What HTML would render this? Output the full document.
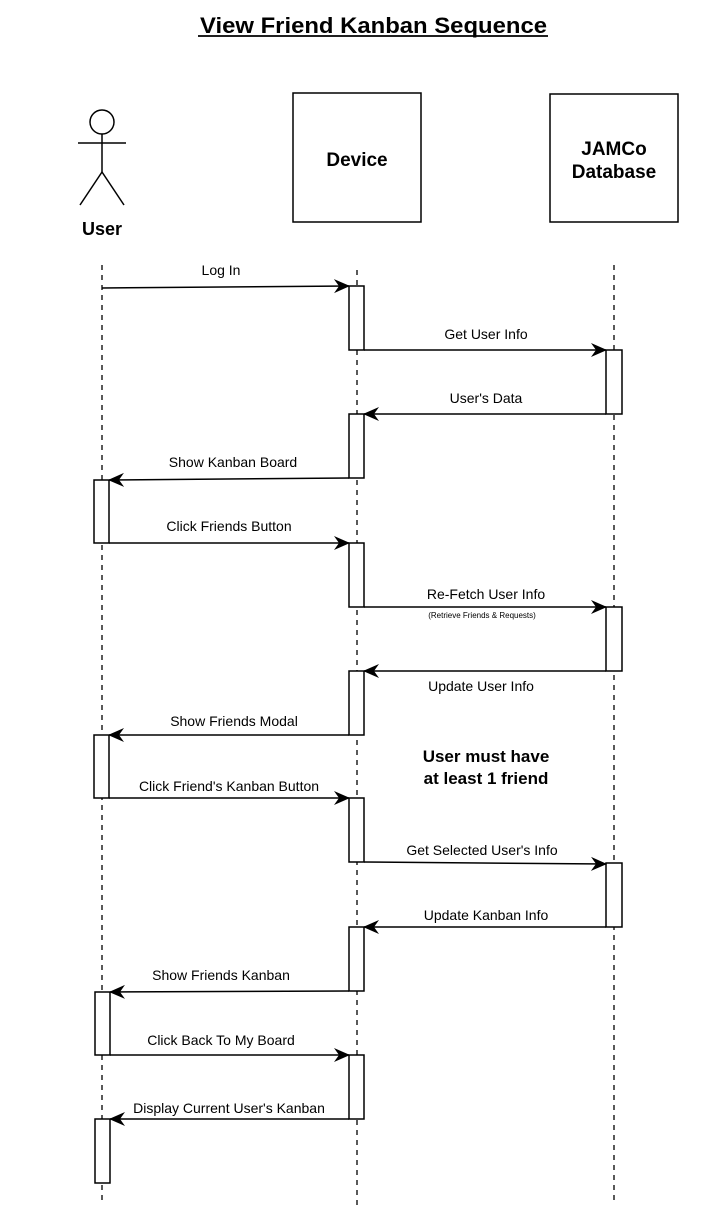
<!DOCTYPE html>
<html><head><style>body{margin:0;background:#fff}svg{display:block}</style></head><body>
<svg width="724" height="1205" xmlns="http://www.w3.org/2000/svg" font-family="Liberation Sans, Arial, sans-serif">
<defs><marker id="a" markerWidth="16" markerHeight="16" refX="15" refY="8" orient="auto" markerUnits="userSpaceOnUse"><path d="M0,1 L16,8 L0,15 L5,8 z" fill="#000"/></marker></defs>
<text x="200" y="33" font-size="22" font-weight="bold" textLength="347" lengthAdjust="spacingAndGlyphs">View Friend Kanban Sequence</text>
<line x1="198" y1="36" x2="548" y2="36" stroke="#000" stroke-width="1.8"/>
<g stroke="#000" stroke-width="1.5" fill="none">
<circle cx="102" cy="122" r="12"/>
<line x1="102" y1="134" x2="102" y2="172"/>
<line x1="78" y1="143" x2="126" y2="143"/>
<line x1="102" y1="172" x2="80" y2="205"/>
<line x1="102" y1="172" x2="124" y2="205"/>
<rect x="293" y="93" width="128" height="129"/>
<rect x="550" y="94" width="128" height="128"/>
</g>
<text x="102" y="235" font-size="18" font-weight="bold" text-anchor="middle">User</text>
<text x="357" y="166" font-size="19" font-weight="bold" text-anchor="middle">Device</text>
<text x="614" y="155" font-size="19" font-weight="bold" text-anchor="middle">JAMCo</text>
<text x="614" y="178" font-size="19" font-weight="bold" text-anchor="middle">Database</text>
<g stroke="#000" stroke-width="1.3" stroke-dasharray="5,5">
<line x1="102" y1="265" x2="102" y2="1205"/>
<line x1="357" y1="270" x2="357" y2="1205"/>
<line x1="614" y1="265" x2="614" y2="1205"/>
</g>
<g stroke="#000" stroke-width="1.5" fill="#fff">
<rect x="349" y="286" width="15" height="64"/>
<rect x="349" y="414" width="15" height="64"/>
<rect x="349" y="543" width="15" height="64"/>
<rect x="349" y="671" width="15" height="64"/>
<rect x="349" y="798" width="15" height="64"/>
<rect x="349" y="927" width="15" height="64"/>
<rect x="349" y="1055" width="15" height="64"/>
<rect x="606" y="350" width="16" height="64"/>
<rect x="606" y="607" width="16" height="64"/>
<rect x="606" y="863" width="16" height="64"/>
<rect x="94" y="480" width="15" height="63"/>
<rect x="94" y="735" width="15" height="63"/>
<rect x="95" y="992" width="15" height="63"/>
<rect x="95" y="1119" width="15" height="64"/>
</g>
<g stroke="#000" stroke-width="1.5" marker-end="url(#a)">
<line x1="102" y1="288" x2="349" y2="286"/>
<line x1="364" y1="350" x2="606" y2="350"/>
<line x1="606" y1="414" x2="364" y2="414"/>
<line x1="349" y1="478" x2="109" y2="480"/>
<line x1="109" y1="543" x2="349" y2="543"/>
<line x1="364" y1="607" x2="606" y2="607"/>
<line x1="606" y1="671" x2="364" y2="671"/>
<line x1="349" y1="735" x2="109" y2="735"/>
<line x1="109" y1="798" x2="349" y2="798"/>
<line x1="364" y1="862" x2="606" y2="864"/>
<line x1="606" y1="927" x2="364" y2="927"/>
<line x1="349" y1="991" x2="110" y2="992"/>
<line x1="110" y1="1055" x2="349" y2="1055"/>
<line x1="349" y1="1119" x2="110" y2="1119"/>
</g>
<g font-size="14" text-anchor="middle">
<text x="221" y="275">Log In</text>
<text x="486" y="339">Get User Info</text>
<text x="486" y="403">User's Data</text>
<text x="233" y="467">Show Kanban Board</text>
<text x="229" y="531">Click Friends Button</text>
<text x="486" y="599">Re-Fetch User Info</text>
<text x="482" y="618" font-size="8">(Retrieve Friends &amp; Requests)</text>
<text x="481" y="691">Update User Info</text>
<text x="234" y="726">Show Friends Modal</text>
<text x="229" y="791">Click Friend's Kanban Button</text>
<text x="482" y="855">Get Selected User's Info</text>
<text x="486" y="920">Update Kanban Info</text>
<text x="221" y="980">Show Friends Kanban</text>
<text x="221" y="1045">Click Back To My Board</text>
<text x="229" y="1113">Display Current User's Kanban</text>
</g>
<text x="486" y="762" font-size="17" font-weight="bold" text-anchor="middle">User must have</text>
<text x="486" y="784" font-size="17" font-weight="bold" text-anchor="middle">at least 1 friend</text>
</svg>
</body></html>
